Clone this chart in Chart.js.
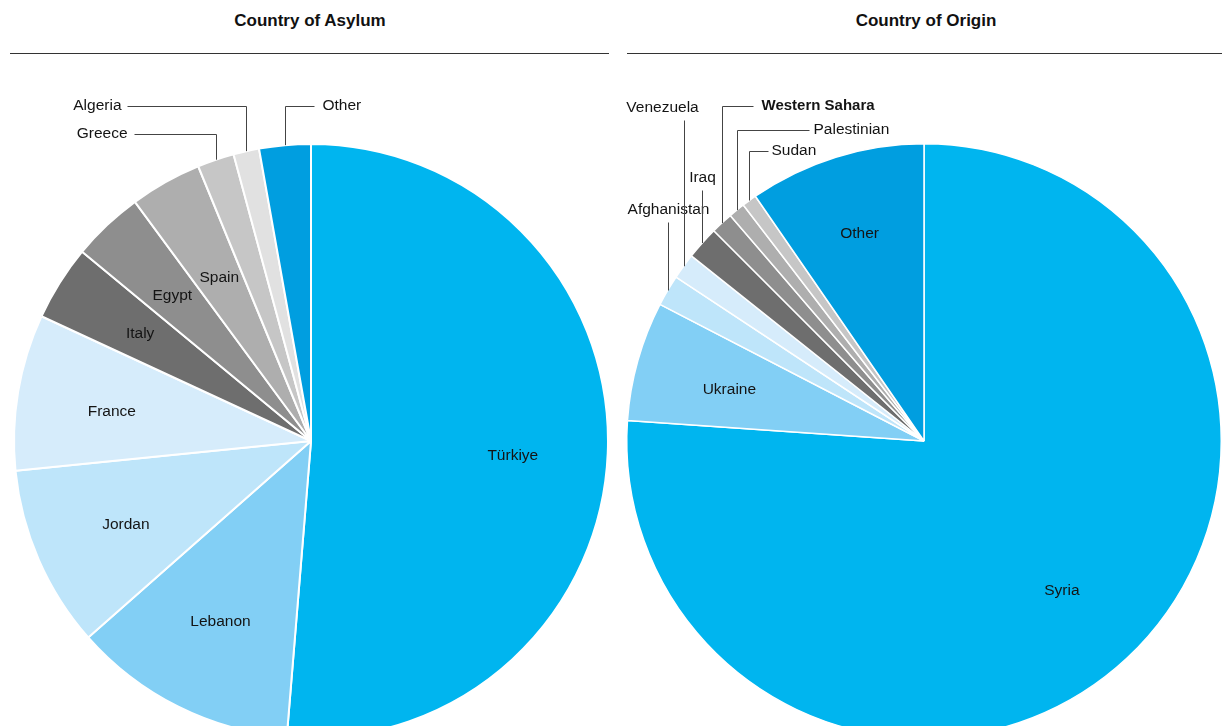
<!DOCTYPE html>
<html>
<head>
<meta charset="utf-8">
<script src="https://cdn.jsdelivr.net/npm/chart.js@4.4.1/dist/chart.umd.min.js"></script>
<style>
  html, body { margin: 0; padding: 0; background: #fff; overflow: hidden; }
  body { width: 1223px; height: 726px; position: relative; font-family: "Liberation Sans", Arial, sans-serif; }
  .title { position: absolute; top: 12px; width: 620px; text-align: center; font-weight: bold; font-size: 17px; line-height: 17px; color: #111; }
  .rule { position: absolute; top: 53px; height: 0; border-top: 1px solid #333; }
  canvas { position: absolute; top: 0; }
</style>
</head>
<body>
<div class="title" style="left:0">Country of Asylum</div>
<div class="title" style="left:616px">Country of Origin</div>
<div class="rule" style="left:10px; width:599px"></div>
<div class="rule" style="left:627px; width:595px"></div>
<canvas id="asylumChart" width="620" height="760" style="left:0"></canvas>
<canvas id="originChart" width="620" height="760" style="left:613px"></canvas>

<script>
// share of total (%), read clockwise from 12 o'clock
const asylumLabels = ['Türkiye', 'Lebanon', 'Jordan', 'France', 'Italy', 'Egypt', 'Spain', 'Greece', 'Algeria', 'Other'];
const asylumShare = [51.3, 12.2, 9.9, 8.5, 4.1, 3.9, 3.9, 2.0, 1.4, 2.8];

const originLabels = ['Syria', 'Ukraine', 'Afghanistan', 'Venezuela', 'Iraq', 'Western Sahara', 'Palestinian', 'Sudan', 'Other'];
const originShare = [76.1, 6.5, 1.7, 1.4, 1.8, 1.2, 0.9, 0.8, 9.6];

const asylumColors = ['#00b5ef', '#82cff5', '#bee5fa', '#d6ecfb', '#6e6e6e', '#8e8e8e', '#aeaeae', '#c6c6c6', '#e1e1e1', '#009ee0'];
const originColors = ['#00b5ef', '#82cff5', '#bee5fa', '#d6ecfb', '#6e6e6e', '#8e8e8e', '#aeaeae', '#c6c6c6', '#009ee0'];

const labelFont = '15.5px "Liberation Sans", Arial, sans-serif';
const labelColor = '#141414';
const leaderColor = '#444';

// draws inside labels and leader-line callouts from each arc's own geometry
const sliceLabels = {
  id: 'sliceLabels',
  afterDatasetsDraw(chart, args, opts) {
    const ctx = chart.ctx;
    const meta = chart.getDatasetMeta(0);
    ctx.save();
    ctx.fillStyle = labelColor;
    meta.data.forEach((arc, i) => {
      const name = chart.data.labels[i];
      const p = arc.getProps(['x', 'y', 'startAngle', 'endAngle', 'outerRadius'], true);
      const mid = (p.startAngle + p.endAngle) / 2;
      const inside = opts.inside[name];
      const callout = opts.callouts[name];

      if (inside) {
        const r = p.outerRadius * (inside.r || 0.68);
        ctx.font = labelFont;
        ctx.textAlign = 'center';
        ctx.textBaseline = 'middle';
        ctx.fillText(name, p.x + r * Math.cos(mid) + (inside.dx || 0), p.y + r * Math.sin(mid) + (inside.dy || 0));
      }

      if (callout) {
        const px = Math.round(p.x + p.outerRadius * Math.cos(mid)) + 0.5;
        const py = p.y + p.outerRadius * Math.sin(mid);
        const ly = Math.round(callout.y) + 0.5;
        ctx.strokeStyle = leaderColor;
        ctx.lineWidth = 1;
        ctx.beginPath();
        ctx.moveTo(px, py);
        ctx.lineTo(px, ly);
        let tx = px, align = 'center', ty = ly;
        if (callout.dir === 'left') {
          ctx.lineTo(px - callout.len, ly);
          tx = px - callout.len - (callout.gap || 6);
          align = 'right';
        } else if (callout.dir === 'right') {
          ctx.lineTo(px + callout.len, ly);
          tx = px + callout.len + (callout.gap || 6);
          align = 'left';
        } else {
          tx = px + (callout.dx || 0);
          ty = ly - 12;
        }
        ctx.stroke();
        ctx.font = callout.bold ? '600 15px "Liberation Sans", Arial, sans-serif' : labelFont;
        ctx.textAlign = align;
        ctx.textBaseline = 'middle';
        ctx.fillText(name, tx, ty - 1);
      }
    });
    ctx.restore();
  }
};

function renderPie(canvasId, labels, values, colors, borderWidth, padding, inside, callouts) {
  const ctx = document.getElementById(canvasId);
  new Chart(ctx, {
    type: 'pie',
    data: {
      labels,
      datasets: [{ data: values, backgroundColor: colors, borderColor: '#ffffff', borderWidth }]
    },
    options: {
      responsive: false,
      animation: false,
      layout: { padding },
      plugins: {
        legend: { display: false },
        tooltip: { enabled: false },
        sliceLabels: { inside, callouts }
      }
    },
    plugins: [sliceLabels]
  });
}

renderPie('asylumChart', asylumLabels, asylumShare, asylumColors, 2,
  { left: 13, right: 11, top: 143, bottom: 21 },
  {
    'Türkiye': { dy: 6 },
    'Lebanon': {},
    'Jordan': { dy: 3 },
    'France': { dy: 4 },
    'Italy': {},
    'Egypt': { dy: 2 },
    'Spain': { r: 0.63 }
  },
  {
    'Algeria': { dir: 'left', y: 106, len: 119 },
    'Greece': { dir: 'left', y: 134, len: 82, gap: 7 },
    'Other': { dir: 'right', y: 106, len: 29, gap: 8 }
  });

renderPie('originChart', originLabels, originShare, originColors, 1.5,
  { left: 13, right: 11, top: 143, bottom: 21 },
  {
    'Syria': { dy: 2 },
    'Ukraine': { dy: 3 },
    'Other': { r: 0.73 }
  },
  {
    'Venezuela': { dir: 'up', y: 120, dx: -22 },
    'Iraq': { dir: 'up', y: 190 },
    'Afghanistan': { dir: 'up', y: 222 },
    'Western Sahara': { dir: 'right', y: 106, len: 31, gap: 8, bold: true },
    'Palestinian': { dir: 'right', y: 130, len: 72, gap: 4 },
    'Sudan': { dir: 'right', y: 151, len: 19, gap: 3 }
  });
</script>
</body>
</html>
